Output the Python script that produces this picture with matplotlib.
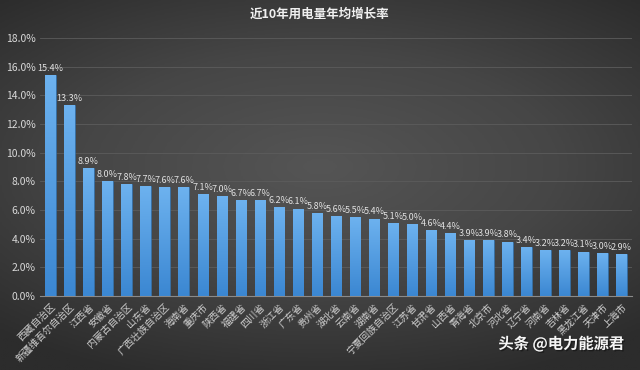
import numpy as np
import matplotlib.pyplot as plt
from matplotlib.colors import LinearSegmentedColormap
import matplotlib.patheffects as pe

plt.rcParams['font.family'] = ['Noto Sans CJK SC', 'DejaVu Sans']

# --- data ---
provinces = ["西藏自治区", "新疆维吾尔自治区", "江西省", "安徽省", "内蒙古自治区", "山东省",
             "广西壮族自治区", "海南省", "重庆市", "陕西省", "福建省", "四川省", "浙江省",
             "广东省", "贵州省", "湖北省", "云南省", "湖南省", "宁夏回族自治区", "江苏省",
             "甘肃省", "山西省", "青海省", "北京市", "河北省", "辽宁省", "河南省", "吉林省",
             "黑龙江省", "天津市", "上海市"]
growth = [15.4, 13.3, 8.9, 8.0, 7.8, 7.7, 7.6, 7.6, 7.1, 7.0, 6.7, 6.7, 6.2,
          6.1, 5.8, 5.6, 5.5, 5.4, 5.1, 5.0, 4.6, 4.4, 3.9, 3.9, 3.8, 3.4, 3.2, 3.2,
          3.1, 3.0, 2.9]
yticks = np.arange(0, 18.1, 2)

fig = plt.figure(figsize=(6.4, 3.7), dpi=100)

# radial dark background
bg = fig.add_axes([0, 0, 1, 1], zorder=-10)
yy, xx = np.mgrid[-1:1:200j, -1:1:300j]
r = np.sqrt((xx * 0.9) ** 2 + ((yy + 0.1) * 1.1) ** 2)
bg_cmap = LinearSegmentedColormap.from_list("bg", ["#555555", "#464646", "#2c2c2c"])
bg.imshow(r, cmap=bg_cmap, aspect="auto", extent=[0, 1, 0, 1], vmin=0, vmax=1.35)
bg.axis("off")

ax = fig.add_axes([0.0625, 0.2, 0.925, 0.697])
ax.patch.set_alpha(0)

x = np.arange(len(provinces))
bars = ax.bar(x, growth, width=0.55, color="#4a9ae0", edgecolor="#2f6fae", linewidth=0.4, zorder=3)

# vertical gradient inside each bar
bar_cmap = LinearSegmentedColormap.from_list("bar", ["#3b87d2", "#6db2ef"])
grad = np.linspace(0, 1, 100).reshape(-1, 1)
for b in bars:
    x0, w, h = b.get_x(), b.get_width(), b.get_height()
    im = ax.imshow(grad, cmap=bar_cmap, aspect="auto", origin="lower",
                   extent=[x0, x0 + w, 0, h], zorder=3.5)
    im.set_clip_path(b)

for xi, v in zip(x, growth):
    ax.text(xi, v + 0.15, f"{v:.1f}%", ha="center", va="bottom",
            fontsize=6.5, color="#e0e0e0", zorder=5)

ax.set_xlim(-0.55, len(provinces) - 0.45)
ax.set_ylim(0, 18)
ax.set_yticks(yticks)
ax.set_yticklabels([f"{t:.1f}%" for t in yticks], fontsize=7.5, color="#d8d8d8")
ax.set_xticks(x)
ax.set_xticklabels(provinces, rotation=45, ha="right", rotation_mode="anchor",
                   fontsize=7, color="#cfcfcf")
ax.tick_params(length=0, pad=3)
ax.tick_params(axis="x", pad=4)
ax.grid(axis="y", color="#5c5c5c", linewidth=0.6, zorder=0)
for s in ["top", "right", "left"]:
    ax.spines[s].set_visible(False)
ax.spines["bottom"].set_color("#8a8a8a")
ax.spines["bottom"].set_linewidth(0.8)

fig.text(0.5, 0.962, "近10年用电量年均增长率", ha="center", va="center",
         fontsize=9, fontweight="bold", color="#f0f0f0")

# watermark
fig.text(0.975, 0.07, "头条 @电力能源君", ha="right", va="center",
         fontsize=11, fontweight="bold", color="#f5f5f5",
         path_effects=[pe.withSimplePatchShadow(offset=(1, -1), shadow_rgbFace="#111111", alpha=0.6)])

fig.savefig("out.png", dpi=100)
